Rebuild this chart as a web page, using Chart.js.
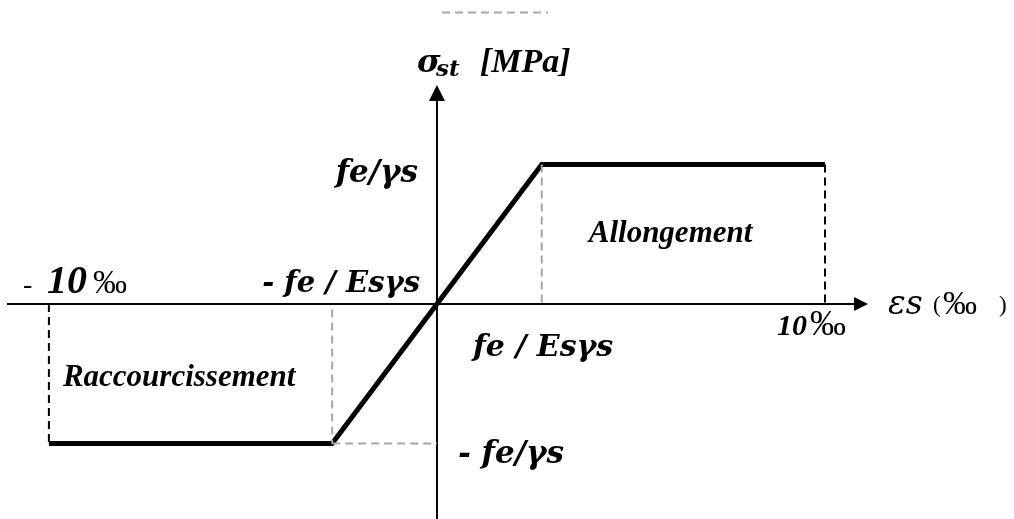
<!DOCTYPE html>
<html>
<head>
<meta charset="utf-8">
<script src="https://cdn.jsdelivr.net/npm/chart.js@4.4.1/dist/chart.umd.min.js"></script>
<style>
  html, body { margin: 0; padding: 0; background: #ffffff; }
  #wrap { width: 1014px; height: 519px; }
</style>
</head>
<body>
<div id="wrap"><canvas id="c" width="1014" height="519"></canvas></div>
<script>
// Steel stress–strain diagram (elastic–perfectly plastic), strain in ‰, stress in MPa
const strain = [-10, -2.7, 2.7, 10];          // ‰ : ultimate shortening, elastic limit (−/+), ultimate elongation
const stress = [-348, -348, 348, 348];        // MPa : −fe/γs, −fe/γs, fe/γs, fe/γs

// axis extents (arrow tips) in data units
const xAxisFrom = -11.08, xAxisTo = 11.11;
const yAxisFrom = -540, yAxisTo = 546;

// visible window of the scales
const xMin = -11.26, xMax = 14.87;
const yMin = -536.3, yMax = 758.3;

// guide lines [x1, y1, x2, y2]
const guideGrey = [
  [2.7, 348, 2.7, 0],
  [-2.7, -14, -2.7, -348],
  [-2.7, -348, 0, -348],
  [0.13, 727, 2.86, 727]
];
const guideBlack = [
  [10, 348, 10, 0],
  [-10, 0, -10, -348]
];

const curve = strain.map((x, i) => ({ x, y: stress[i] }));

function segDatasets(list, color, dash) {
  return list.map(s => ({
    data: [{ x: s[0], y: s[1] }, { x: s[2], y: s[3] }],
    borderColor: color, borderWidth: 2, borderDash: dash,
    pointRadius: 0, fill: false, tension: 0
  }));
}

const serif = '"Liberation Serif", "Times New Roman", serif';
const mathSerif = '"DejaVu Serif", serif';

const axesAndText = {
  id: 'axesAndText',
  beforeDatasetsDraw(chart) {
    const { ctx, scales: { x, y } } = chart;
    const x0 = x.getPixelForValue(0), y0 = y.getPixelForValue(0);
    ctx.save();
    ctx.strokeStyle = '#000'; ctx.fillStyle = '#000'; ctx.lineWidth = 2;
    // horizontal axis
    const xa = x.getPixelForValue(xAxisFrom), xb = x.getPixelForValue(xAxisTo);
    ctx.beginPath(); ctx.moveTo(xa, y0); ctx.lineTo(xb - 12, y0); ctx.stroke();
    ctx.beginPath(); ctx.moveTo(xb, y0); ctx.lineTo(xb - 14, y0 - 7); ctx.lineTo(xb - 14, y0 + 7); ctx.closePath(); ctx.fill();
    // vertical axis
    const ya = y.getPixelForValue(yAxisFrom), yb = y.getPixelForValue(yAxisTo);
    ctx.beginPath(); ctx.moveTo(x0, ya); ctx.lineTo(x0, yb + 12); ctx.stroke();
    ctx.beginPath(); ctx.moveTo(x0, yb); ctx.lineTo(x0 - 8, yb + 16); ctx.lineTo(x0 + 8, yb + 16); ctx.closePath(); ctx.fill();
    ctx.restore();
  },
  afterDatasetsDraw(chart) {
    const { ctx, scales: { x, y } } = chart;
    const px = v => x.getPixelForValue(v), py = v => y.getPixelForValue(v);
    const x0 = px(0), y0 = py(0);
    const fy = py(stress[3]), fyn = py(stress[0]);
    ctx.save();
    ctx.fillStyle = '#000';
    ctx.textBaseline = 'alphabetic';
    const t = (s, f, xx, yy, align) => { ctx.font = f; ctx.textAlign = align || 'left'; ctx.fillText(s, xx, yy); };

    // vertical axis title
    t('σ', 'italic bold 32px ' + mathSerif, x0 - 20, 72);
    t('st', 'italic bold 23px ' + mathSerif, x0 - 1, 76);
    t('[MPa]', 'italic bold 34px ' + serif, x0 + 43, 72);

    // horizontal axis title
    t('εs', 'italic 33px ' + mathSerif, px(xAxisTo) + 20, y0 + 10);
    t('(', '23px ' + serif, px(xAxisTo) + 65, y0 + 8);
    t('‰', '34px ' + serif, px(xAxisTo) + 75, y0 + 10);
    t(')', '23px ' + serif, px(xAxisTo) + 131, y0 + 8);

    // stress levels
    t('fe/γs', 'italic bold 31px ' + mathSerif, x0 - 19, fy + 18, 'right');
    t('- fe/γs', 'italic bold 31px ' + mathSerif, x0 + 21, fyn + 19);

    // strain levels
    t('- fe / Esγs', 'italic bold 29px ' + mathSerif, x0 - 17, y0 - 12, 'right');
    t('fe / Esγs', 'italic bold 30px ' + mathSerif, x0 + 36, y0 + 52);

    t('-', '28px ' + serif, px(strain[0]) - 26, y0 - 11);
    t('10', 'italic bold 40px ' + serif, px(strain[0]) - 2, y0 - 11);
    t('‰', '34px ' + serif, px(strain[0]) + 44, y0 - 11);

    t('10', 'italic bold 30px ' + serif, px(strain[3]) - 48, y0 + 31);
    t('‰', '36px ' + serif, px(strain[3]) - 15, y0 + 31);

    // zones
    t('Allongement', 'italic bold 31px ' + serif, px(strain[2]) + 47, py(stress[3] * 0.445));
    t('Raccourcissement', 'italic bold 31px ' + serif, px(strain[0]) + 14, py(stress[0] * 0.59));
    ctx.restore();
  }
};

new Chart(document.getElementById('c'), {
  type: 'line',
  data: {
    datasets: [
      ...segDatasets(guideGrey, '#a6a6a6', [8, 5]),
      ...segDatasets(guideBlack, '#000000', [8, 5]),
      {
        data: curve,
        borderColor: '#000000', borderWidth: 5,
        borderJoinStyle: 'miter', borderCapStyle: 'butt',
        pointRadius: 0, fill: false, tension: 0
      }
    ]
  },
  options: {
    responsive: false,
    animation: false,
    layout: { padding: 0 },
    plugins: { legend: { display: false }, tooltip: { enabled: false } },
    scales: {
      x: { type: 'linear', min: xMin, max: xMax, display: false },
      y: { type: 'linear', min: yMin, max: yMax, display: false }
    }
  },
  plugins: [axesAndText]
});
</script>
</body>
</html>
